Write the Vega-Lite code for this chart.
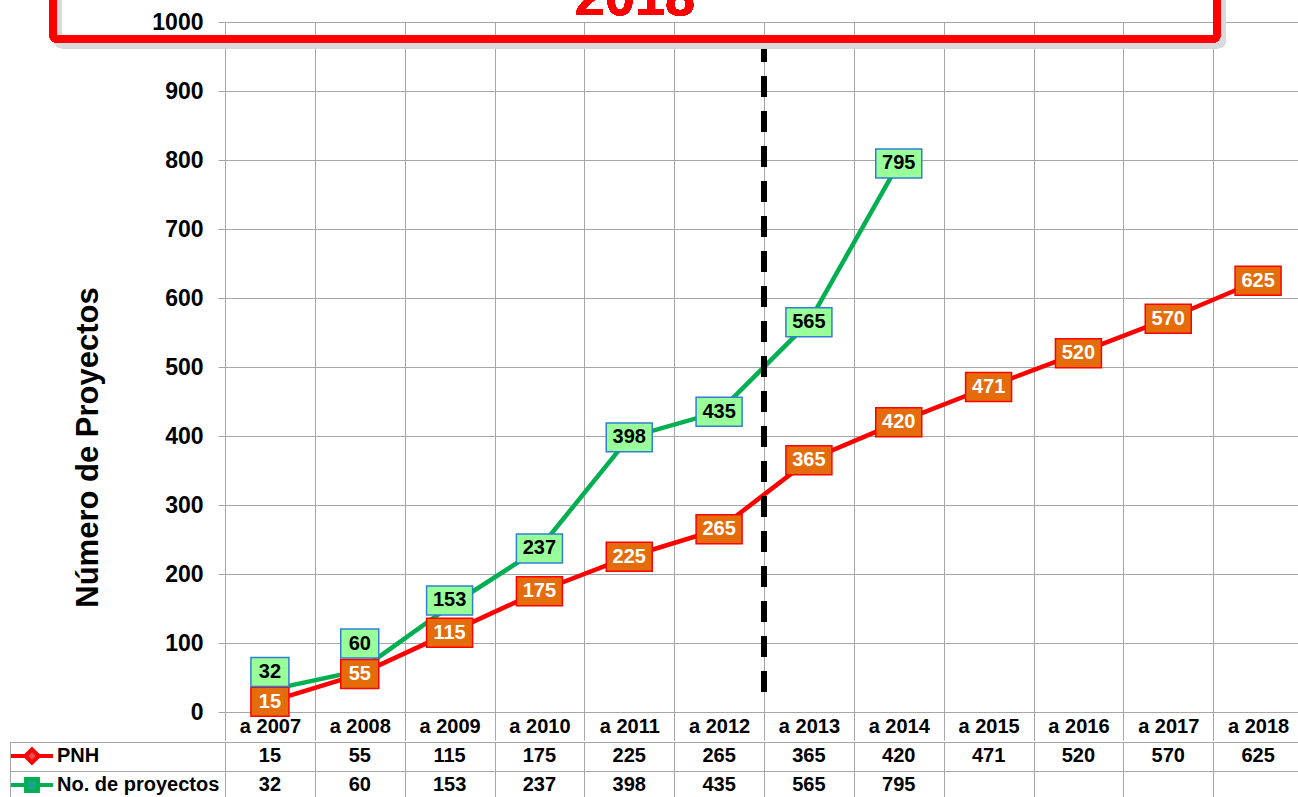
{
  "$schema": "https://vega.github.io/schema/vega-lite/v6.json",
  "background": "white",
  "padding": {"left": 9, "top": -28, "right": -5, "bottom": 0},
  "spacing": 0,
  "config": {
    "font": "Liberation Sans",
    "view": {"stroke": null},
    "legend": {"orient": "left", "title": null, "offset": -214.5, "padding": 4, "rowPadding": 0, "labelFontSize": 20, "labelFontWeight": "bold", "labelColor": "black", "labelOffset": 15, "labelLimit": 300, "symbolSize": 196, "symbolStrokeWidth": 4, "symbolOpacity": 1}
  },
  "datasets": {
    "d": [
      {"period": "a 2007", "series": "PNH", "value": 15},
      {"period": "a 2008", "series": "PNH", "value": 55},
      {"period": "a 2009", "series": "PNH", "value": 115},
      {"period": "a 2010", "series": "PNH", "value": 175},
      {"period": "a 2011", "series": "PNH", "value": 225},
      {"period": "a 2012", "series": "PNH", "value": 265},
      {"period": "a 2013", "series": "PNH", "value": 365},
      {"period": "a 2014", "series": "PNH", "value": 420},
      {"period": "a 2015", "series": "PNH", "value": 471},
      {"period": "a 2016", "series": "PNH", "value": 520},
      {"period": "a 2017", "series": "PNH", "value": 570},
      {"period": "a 2018", "series": "PNH", "value": 625},
      {"period": "a 2007", "series": "No. de proyectos", "value": 32},
      {"period": "a 2008", "series": "No. de proyectos", "value": 60},
      {"period": "a 2009", "series": "No. de proyectos", "value": 153},
      {"period": "a 2010", "series": "No. de proyectos", "value": 237},
      {"period": "a 2011", "series": "No. de proyectos", "value": 398},
      {"period": "a 2012", "series": "No. de proyectos", "value": 435},
      {"period": "a 2013", "series": "No. de proyectos", "value": 565},
      {"period": "a 2014", "series": "No. de proyectos", "value": 795}
    ]
  },
  "resolve": {"scale": {"stroke": "independent", "fill": "independent", "shape": "independent"}},
  "vconcat": [
    {
      "width": 1078,
      "height": 690,
      "data": {"name": "d"},
      "encoding": {
        "x": {
          "field": "period", "type": "nominal",
          "scale": {"domain": ["a 2007","a 2008","a 2009","a 2010","a 2011","a 2012","a 2013","a 2014","a 2015","a 2016","a 2017","a 2018"], "paddingInner": 0, "paddingOuter": 0},
          "axis": {"orient": "bottom", "title": null, "domain": false, "grid": true, "gridColor": "#a6a6a6", "tickBand": "extent", "tickSize": 28, "tickColor": "#a6a6a6", "labelFontSize": 20, "labelFontWeight": "bold", "labelColor": "black", "labelBaseline": "middle", "labelPadding": -14, "labelAngle": 0}
        },
        "y": {
          "field": "value", "type": "quantitative",
          "scale": {"domain": [0, 1000], "nice": false},
          "axis": {"values": [0,100,200,300,400,500,600,700,800,900,1000], "format": "d", "grid": true, "gridColor": "#a6a6a6", "domain": false, "tickSize": 7, "tickColor": "#a6a6a6", "labelFontSize": 23, "labelFontWeight": "bold", "labelColor": "black", "labelPadding": 15, "title": "Número de Proyectos", "titleFontSize": 31, "titleFontWeight": "bold", "titleColor": "black", "titleX": -128, "titleY": 425, "titleBaseline": "alphabetic", "titleAlign": "center", "titleAngle": 270}
        }
      },
      "layer": [
        {
          "mark": {"type": "line", "strokeWidth": 4.5},
          "encoding": {
            "stroke": {"field": "series", "type": "nominal", "scale": {"domain": ["PNH", "No. de proyectos"], "range": ["#ff0000", "#00b050"]}, "legend": null}
          }
        },
        {
          "mark": {"type": "rule", "strokeWidth": 5, "strokeDash": [21, 14], "color": "black"},
          "encoding": {
            "x": {"datum": "a 2013", "type": "nominal", "bandPosition": 0},
            "y": {"datum": 29, "type": "quantitative"},
            "y2": {"datum": 970}
          }
        },
        {
          "transform": [{"filter": "datum.series === 'PNH'"}],
          "layer": [
            {
              "mark": {"type": "point", "filled": true, "opacity": 1, "strokeWidth": 1.5, "size": 2116, "fill": "#e46c0a", "stroke": "#ff0000"},
              "encoding": {
                "shape": {"condition": {"test": "datum.value < 100", "value": "M-0.826,-0.63H0.826V0.63H-0.826Z"}, "value": "M-1,-0.63H1V0.63H-1Z"}
              }
            },
            {
              "mark": {"type": "text", "fontSize": 20, "fontWeight": "bold", "baseline": "middle", "align": "center", "fill": "white"},
              "encoding": {"text": {"field": "value", "type": "quantitative"}}
            }
          ]
        },
        {
          "transform": [{"filter": "datum.series !== 'PNH' && datum.value >= 200"}],
          "layer": [
            {
              "mark": {"type": "point", "filled": true, "opacity": 1, "strokeWidth": 1.5, "size": 2116, "fill": "#99ff99", "stroke": "#2f80d0"},
              "encoding": {
                "shape": {"condition": {"test": "datum.value < 100", "value": "M-0.826,-0.63H0.826V0.63H-0.826Z"}, "value": "M-1,-0.63H1V0.63H-1Z"}
              }
            },
            {
              "mark": {"type": "text", "fontSize": 20, "fontWeight": "bold", "baseline": "middle", "align": "center", "fill": "black"},
              "encoding": {"text": {"field": "value", "type": "quantitative"}}
            }
          ]
        },
        {
          "transform": [{"filter": "datum.series !== 'PNH' && datum.value < 50"}],
          "layer": [
            {
              "mark": {"type": "point", "filled": true, "opacity": 1, "strokeWidth": 1.5, "size": 2116, "fill": "#99ff99", "stroke": "#2f80d0", "yOffset": -18, "shape": "M-0.826,-0.63H0.826V0.63H-0.826Z"}
            },
            {
              "mark": {"type": "text", "fontSize": 20, "fontWeight": "bold", "baseline": "middle", "align": "center", "fill": "black", "yOffset": -18},
              "encoding": {"text": {"field": "value", "type": "quantitative"}}
            }
          ]
        },
        {
          "transform": [{"filter": "datum.series !== 'PNH' && datum.value >= 50 && datum.value < 100"}],
          "layer": [
            {
              "mark": {"type": "point", "filled": true, "opacity": 1, "strokeWidth": 1.5, "size": 2116, "fill": "#99ff99", "stroke": "#2f80d0", "yOffset": -27, "shape": "M-0.826,-0.63H0.826V0.63H-0.826Z"}
            },
            {
              "mark": {"type": "text", "fontSize": 20, "fontWeight": "bold", "baseline": "middle", "align": "center", "fill": "black", "yOffset": -27},
              "encoding": {"text": {"field": "value", "type": "quantitative"}}
            }
          ]
        },
        {
          "transform": [{"filter": "datum.series !== 'PNH' && datum.value >= 100 && datum.value < 200"}],
          "layer": [
            {
              "mark": {"type": "point", "filled": true, "opacity": 1, "strokeWidth": 1.5, "size": 2116, "fill": "#99ff99", "stroke": "#2f80d0", "yOffset": -6, "shape": "M-1,-0.63H1V0.63H-1Z"}
            },
            {
              "mark": {"type": "text", "fontSize": 20, "fontWeight": "bold", "baseline": "middle", "align": "center", "fill": "black", "yOffset": -6},
              "encoding": {"text": {"field": "value", "type": "quantitative"}}
            }
          ]
        },
        {
          "mark": {"type": "rect", "fill": "white", "fillOpacity": 0, "stroke": "#dadada", "strokeWidth": 8, "strokeOpacity": 0.7, "cornerRadius": 4, "xOffset": 5, "x2Offset": 5, "yOffset": 5, "y2Offset": 5},
          "encoding": {
            "x": {"datum": "a 2007", "type": "nominal", "bandPosition": -1.915},
            "x2": {"datum": "a 2018", "bandPosition": 0.042},
            "y": {"datum": 975, "type": "quantitative"},
            "y2": {"datum": 1055}
          }
        },
        {
          "mark": {"type": "rect", "fill": "white", "fillOpacity": 0, "stroke": "#ff0000", "strokeWidth": 7, "cornerRadius": 4},
          "encoding": {
            "x": {"datum": "a 2007", "type": "nominal", "bandPosition": -1.915},
            "x2": {"datum": "a 2018", "bandPosition": 0.042},
            "y": {"datum": 975, "type": "quantitative"},
            "y2": {"datum": 1055}
          }
        },
        {
          "mark": {"type": "text", "text": "2018", "fontSize": 54, "fontWeight": "bold", "color": "#ff0000", "baseline": "alphabetic", "align": "center"},
          "encoding": {
            "x": {"datum": "a 2011", "type": "nominal", "bandPosition": 0.565},
            "y": {"datum": 1010, "type": "quantitative"}
          }
        }
      ]
    },
    {
      "width": 1078,
      "height": 57,
      "data": {"name": "d"},
      "encoding": {
        "x": {
          "field": "period", "type": "nominal",
          "scale": {"domain": ["a 2007","a 2008","a 2009","a 2010","a 2011","a 2012","a 2013","a 2014","a 2015","a 2016","a 2017","a 2018"], "paddingInner": 0, "paddingOuter": 0},
          "axis": {"orient": "bottom", "title": null, "labels": false, "ticks": false, "domain": false, "grid": true, "gridColor": "#a6a6a6", "tickBand": "extent"}
        },
        "y": {
          "field": "series", "type": "nominal",
          "scale": {"domain": ["PNH", "No. de proyectos"], "paddingInner": 0, "paddingOuter": 0},
          "axis": {"title": null, "labels": false, "offset": 215, "tickSize": -215, "tickColor": "#a6a6a6", "tickBand": "extent", "domain": true, "domainColor": "#a6a6a6", "grid": true, "gridColor": "#a6a6a6"}
        }
      },
      "layer": [
        {
          "mark": {"type": "text", "fontSize": 20, "fontWeight": "bold", "fill": "black", "baseline": "middle"},
          "encoding": {"text": {"field": "value", "type": "quantitative"}}
        },
        {
          "transform": [{"filter": "false"}],
          "mark": {"type": "point", "filled": true, "opacity": 1, "size": 196, "strokeWidth": 4},
          "encoding": {
            "stroke": {
              "field": "series", "type": "nominal",
              "scale": {"domain": ["PNH", "No. de proyectos"], "range": ["#ff0000", "#00b050"]}
            },
            "fill": {
              "field": "series", "type": "nominal",
              "scale": {"domain": ["PNH", "No. de proyectos"], "range": ["#e05050", "#1aa38f"]}
            },
            "shape": {
              "field": "series", "type": "nominal",
              "scale": {"domain": ["PNH", "No. de proyectos"], "range": ["M-3,0H-0.95M0.95,0H3M-0.95,0L0,-0.95L0.95,0L0,0.95Z", "M-3,0H-0.85M0.85,0H3M-0.85,-0.85H0.85V0.85H-0.85Z"]}
            }
          }
        }
      ]
    }
  ]
}
